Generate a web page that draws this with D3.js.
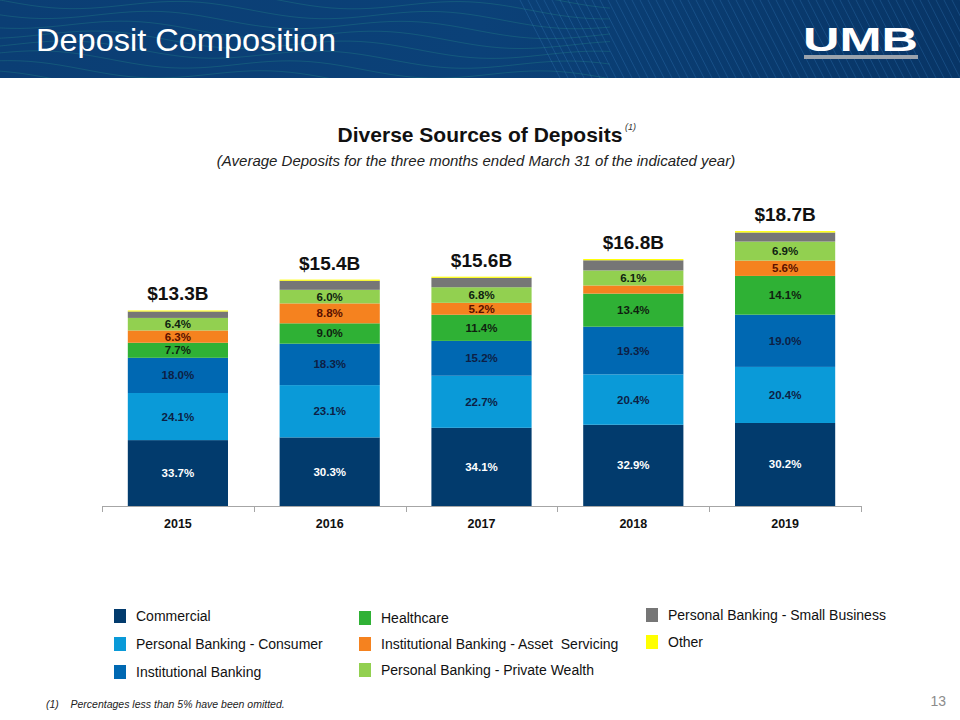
<!DOCTYPE html>
<html><head><meta charset="utf-8">
<script src="https://cdn.jsdelivr.net/npm/d3@7"></script>
<style>
html,body{margin:0;padding:0;background:#fff;}
svg{display:block;font-family:"Liberation Sans",Arial,sans-serif;}
</style></head>
<body>
<svg id="chart" width="960" height="720"></svg>
<script>
const years = ["2015","2016","2017","2018","2019"];
const totals = [13.3, 15.4, 15.6, 16.8, 18.7];
const totalLabels = ["$13.3B","$15.4B","$15.6B","$16.8B","$18.7B"];
const seriesNames = ["Commercial","Personal Banking - Consumer","Institutional Banking","Healthcare","Institutional Banking - Asset  Servicing","Personal Banking - Private Wealth","Personal Banking - Small Business","Other"];
const commercial    = [33.7, 30.3, 34.1, 32.9, 30.2];
const consumer      = [24.1, 23.1, 22.7, 20.4, 20.4];
const institutional = [18.0, 18.3, 15.2, 19.3, 19.0];
const healthcare    = [7.7, 9.0, 11.4, 13.4, 14.1];
const assetServicing= [6.3, 8.8, 5.2, 3.3, 5.6];
const privateWealth = [6.4, 6.0, 6.8, 6.1, 6.9];
const smallBusiness = [3.3, 4.0, 4.1, 4.1, 3.3];
const other         = [0.5, 0.5, 0.5, 0.5, 0.5];
const seriesValues = [commercial, consumer, institutional, healthcare, assetServicing, privateWealth, smallBusiness, other];
const colors = ["#023b6d","#0a9ad8","#0068b2","#2fb135","#f5821f","#92d050","#767676","#ffff00"];
const labelColors = ["#ffffff","#0d1f45","#0d1f45","#0f1f10","#5a1000","#0f1f10",null,null];

const svg = d3.select("#chart");

// ---------- Header band ----------
const defs = svg.append("defs");
const hg = defs.append("linearGradient").attr("id","hdr").attr("x1","0").attr("x2","1").attr("y1","0").attr("y2","0");
hg.append("stop").attr("offset","0").attr("stop-color","#0b3e74");
hg.append("stop").attr("offset","0.5").attr("stop-color","#0b4178");
hg.append("stop").attr("offset","1").attr("stop-color","#083566");
svg.append("rect").attr("x",0).attr("y",0).attr("width",960).attr("height",78).attr("fill","url(#hdr)");
defs.append("clipPath").attr("id","hclip").append("rect").attr("width",960).attr("height",78);
const deco = svg.append("g").attr("clip-path","url(#hclip)");
const waveLine = d3.line().curve(d3.curveBasis);
d3.range(-2, 9).forEach(i => {
  const pts = d3.range(0, 62).map(k => [k*10, i*11 + 6*Math.sin(k*10/40 + i*0.7) + k*0.4]);
  deco.append("path").attr("d", waveLine(pts)).attr("fill","none")
    .attr("stroke","#2a9a8a").attr("stroke-opacity",0.35).attr("stroke-width",0.8);
});
d3.range(0, 60).forEach(i => {
  const x0 = 520 + i*8;
  deco.append("line").attr("x1",x0).attr("y1",0).attr("x2",x0+40).attr("y2",78)
    .attr("stroke","#3f86c8").attr("stroke-opacity",0.35).attr("stroke-width",0.8);
});
svg.append("text").attr("x",36).attr("y",51).attr("fill","#fff")
  .style("font-size","32px").attr("textLength",300).attr("lengthAdjust","spacingAndGlyphs")
  .text("Deposit Composition");
svg.append("text").attr("x",803).attr("y",51).attr("fill","#fff")
  .style("font-size","33px").style("font-weight","900")
  .attr("textLength",115).attr("lengthAdjust","spacingAndGlyphs").text("UMB");
svg.append("rect").attr("x",804).attr("y",55).attr("width",114).attr("height",4).attr("fill","#9aa3ad");

// ---------- Titles ----------
svg.append("text").attr("x",480).attr("y",142).attr("text-anchor","middle")
  .style("font-size","21px").style("font-weight","bold").attr("fill","#111").text("Diverse Sources of Deposits");
svg.append("text").attr("x",625).attr("y",130).style("font-size","9px").style("font-style","italic")
  .attr("fill","#333").text("(1)");
svg.append("text").attr("x",476).attr("y",166).attr("text-anchor","middle")
  .style("font-size","15px").style("font-style","italic").attr("fill","#222")
  .text("(Average Deposits for the three months ended March 31 of the indicated year)");

// ---------- Chart ----------
const x = d3.scaleBand().domain(years).range([102, 861]).paddingInner(0.34).paddingOuter(0.17);
const y = d3.scaleLinear().domain([0, 20]).range([506, 212]);

const stackData = years.map((yr, i) => {
  const row = {year: yr, total: totals[i]};
  seriesNames.forEach((s, j) => row[s] = seriesValues[j][i] / 100 * totals[i]);
  return row;
});
const stack = d3.stack().keys(seriesNames)(stackData);

const g = svg.append("g");
stack.forEach((layer, j) => {
  g.append("g").selectAll("rect").data(layer).join("rect")
    .attr("x", d => x(d.data.year))
    .attr("width", x.bandwidth())
    .attr("y", d => y(d[1]))
    .attr("height", d => y(d[0]) - y(d[1]))
    .attr("fill", colors[j]);
});
stack.forEach((layer, j) => {
  if (!labelColors[j]) return;
  layer.forEach((d, i) => {
    const v = seriesValues[j][i];
    if (v < 5) return;
    g.append("text")
      .attr("x", x(d.data.year) + x.bandwidth()/2)
      .attr("y", (y(d[0]) + y(d[1]))/2 + 4)
      .attr("text-anchor","middle")
      .style("font-size","11.5px").style("font-weight","bold")
      .attr("fill", labelColors[j])
      .text(v.toFixed(1) + "%");
  });
});
years.forEach((yr, i) => {
  g.append("text").attr("x", x(yr) + x.bandwidth()/2).attr("y", y(totals[i]) - 10)
    .attr("text-anchor","middle").style("font-size","19px").style("font-weight","bold")
    .attr("fill","#111").text(totalLabels[i]);
});

// x axis
const axisG = svg.append("g").attr("transform","translate(0,506)");
axisG.append("line").attr("x1",102).attr("x2",861).attr("y1",0.5).attr("y2",0.5).attr("stroke","#a6a6a6");
const edges = years.map(yr => x(yr) - x.step()*x.paddingInner()/2).concat([861]);
edges[0] = 102;
axisG.selectAll("line.tick").data(edges).join("line").attr("class","tick")
  .attr("x1", d => Math.round(d)+0.5).attr("x2", d => Math.round(d)+0.5).attr("y1",0).attr("y2",6).attr("stroke","#a6a6a6");
axisG.selectAll("text").data(years).join("text")
  .attr("x", d => x(d) + x.bandwidth()/2).attr("y", 22)
  .attr("text-anchor","middle").style("font-size","12.5px").style("font-weight","bold")
  .attr("fill","#111").text(d => d);

// ---------- Legend ----------
const legendPos = [
  [114, 616], [114, 644], [114, 672],
  [359, 618], [359, 644], [359, 670],
  [646, 615], [646, 642]
];
const lg = svg.append("g");
seriesNames.forEach((s, j) => {
  const [lx, ly] = legendPos[j];
  lg.append("rect").attr("x", lx).attr("y", ly - 7).attr("width", 12).attr("height", 14).attr("fill", colors[j]);
  lg.append("text").attr("x", lx + 22).attr("y", ly + 5)
    .style("font-size","14px").attr("fill","#111").attr("xml:space","preserve")
    .text(s);
});

// ---------- Footnote & page number ----------
svg.append("text").attr("x",46).attr("y",708).style("font-size","10.5px").style("font-style","italic")
  .attr("fill","#222").attr("xml:space","preserve").text("(1)    Percentages less than 5% have been omitted.");
svg.append("text").attr("x",946).attr("y",706).attr("text-anchor","end").style("font-size","14px")
  .attr("fill","#8c8c8c").text("13");
</script>
</body></html>
